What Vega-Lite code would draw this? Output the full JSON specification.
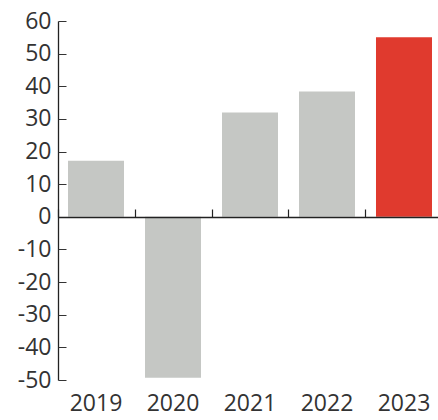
{
  "$schema": "https://vega.github.io/schema/vega-lite/v6.json",
  "width": 380,
  "height": 359,
  "autosize": "none",
  "padding": {"left": 58, "top": 21, "right": 0, "bottom": 40},
  "config": {"view": {"stroke": null}, "font": "Open Sans"},
  "data": {"values": [
    {"year": "2019", "value": 17.2, "highlight": "no"},
    {"year": "2020", "value": -49.3, "highlight": "no"},
    {"year": "2021", "value": 32.0, "highlight": "no"},
    {"year": "2022", "value": 38.4, "highlight": "no"},
    {"year": "2023", "value": 55.0, "highlight": "yes"}
  ]},
  "layer": [
    {
      "mark": {"type": "bar"},
      "encoding": {
        "x": {"field": "year", "type": "ordinal",
          "scale": {"paddingInner": 0.2727, "paddingOuter": 0.104, "align": 0.625},
          "axis": {"orient": "bottom", "domain": false, "ticks": false, "labelAngle": 0, "labelFontSize": 23, "labelColor": "#333333", "labelPadding": 12, "title": null}},
        "y": {"field": "value", "type": "quantitative",
          "scale": {"domain": [-50, 60], "nice": false, "zero": false},
          "axis": {"orient": "left", "values": [-50, -40, -30, -20, -10, 0, 10, 20, 30, 40, 50, 60], "labelExpr": "datum.value + ''", "grid": false, "ticks": false, "domain": true, "domainColor": "#222222", "domainWidth": 1.3, "labelFontSize": 23, "labelColor": "#333333", "labelPadding": 7, "title": null}},
        "color": {"field": "highlight", "type": "nominal", "scale": {"domain": ["no", "yes"], "range": ["#c5c7c4", "#e03a2e"]}, "legend": null}
      }
    },
    {
      "mark": {"type": "bar", "opacity": 0},
      "encoding": {
        "x": {"field": "year", "type": "ordinal",
          "axis": {"orient": "top", "offset": -196, "domain": true, "domainColor": "#222222", "domainWidth": 1.3, "ticks": true, "bandPosition": 0, "tickOffset": -10.5, "tickSize": 8, "tickColor": "#222222", "tickWidth": 1.2, "labels": false, "title": null, "zindex": 1}},
        "y": {"field": "value", "type": "quantitative",
          "axis": {"orient": "right", "offset": -380, "values": [-50, -40, -30, -20, -10, 0, 10, 20, 30, 40, 50, 60], "grid": false, "domain": false, "ticks": true, "tickSize": 8, "tickColor": "#333333", "tickWidth": 1, "labels": false, "title": null}}
      }
    }
  ]
}
